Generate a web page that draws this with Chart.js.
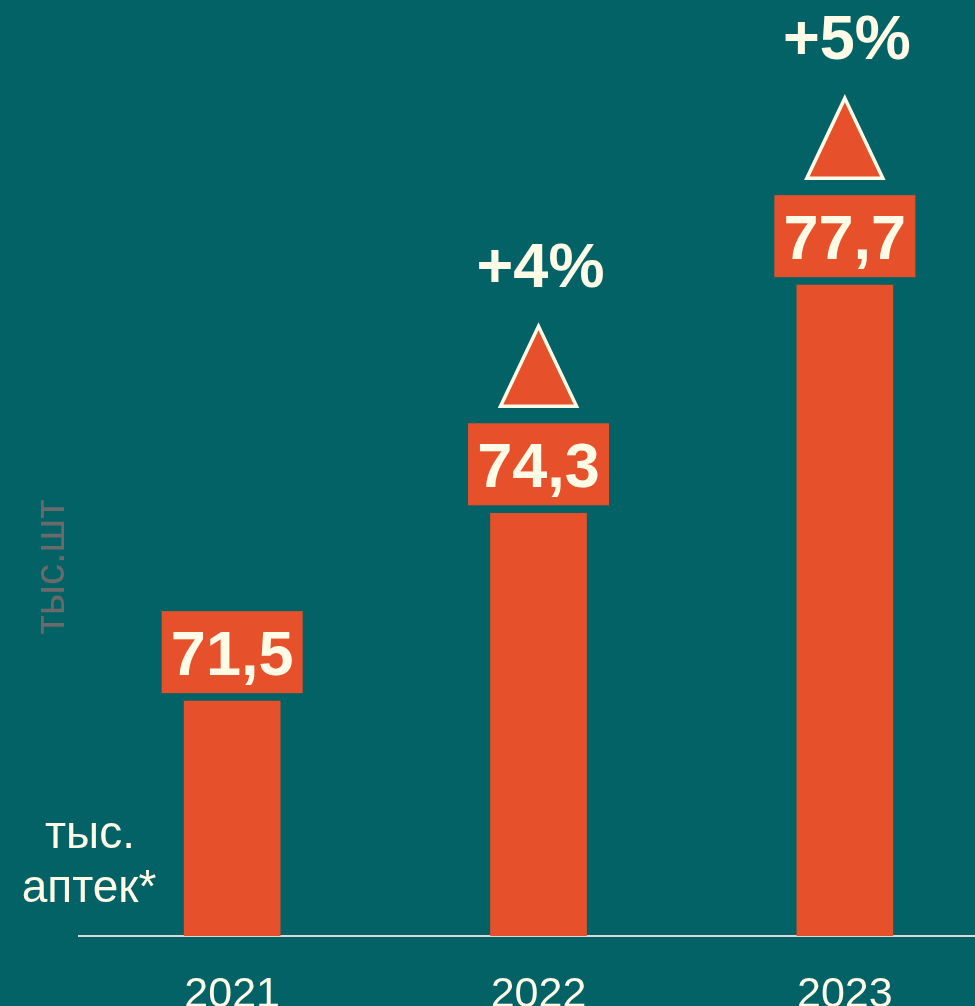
<!DOCTYPE html>
<html>
<head>
<meta charset="utf-8">
<script src="https://cdn.jsdelivr.net/npm/chart.js@4"></script>
<style>
  html, body { margin: 0; padding: 0; background: #036266; overflow: hidden; }
  #wrap { width: 1000px; height: 1006px; }
</style>
</head>
<body>
<div id="wrap"><canvas id="chart" width="1000" height="1006"></canvas></div>
<script>
// data
const years = ["2021", "2022", "2023"];
const pharmacies = [71.5, 74.3, 77.7];     // тыс. аптек
const growth = [null, "+4%", "+5%"];
const unitLabel = "тыс.шт";
const sideLabel = ["тыс.", "аптек*"];

const BAR = "#E6512B";
const CREAM = "#FFFBE6";
const FONT = "'Liberation Sans', Arial, sans-serif";

const fmt = (v) => v.toFixed(1).replace(".", ",");

const labelsPlugin = {
  id: "labels",
  afterDatasetsDraw(chart) {
    const ctx = chart.ctx;
    const meta = chart.getDatasetMeta(0);
    ctx.save();

    meta.data.forEach((bar, i) => {
      const cx = bar.x;
      const top = bar.y;

      // value box
      const boxW = 141, boxH = 82;
      const boxBottom = top - 8;
      const boxTop = boxBottom - boxH;
      ctx.fillStyle = BAR;
      ctx.fillRect(cx - boxW / 2, boxTop, boxW, boxH);
      ctx.fillStyle = CREAM;
      ctx.font = "bold 63px " + FONT;
      ctx.textAlign = "center";
      ctx.textBaseline = "alphabetic";
      ctx.fillText(fmt(pharmacies[i]), cx, boxTop + 64);

      // growth triangle and percent
      if (growth[i]) {
        const base = top - 107;
        const apex = base - 80;
        ctx.beginPath();
        ctx.moveTo(cx, apex);
        ctx.lineTo(cx + 38, base);
        ctx.lineTo(cx - 38, base);
        ctx.closePath();
        ctx.fillStyle = BAR;
        ctx.fill();
        ctx.lineWidth = 3.5;
        ctx.strokeStyle = CREAM;
        ctx.stroke();

        ctx.fillStyle = CREAM;
        ctx.font = "bold 63px " + FONT;
        ctx.fillText(growth[i], cx + 2, top - 226);
      }
    });

    // side captions
    ctx.fillStyle = CREAM;
    ctx.font = "46px " + FONT;
    ctx.textAlign = "center";
    ctx.fillText(sideLabel[0], 90, 848);
    ctx.fillText(sideLabel[1], 89, 902);

    ctx.translate(64, 567);
    ctx.rotate(-Math.PI / 2);
    ctx.fillStyle = "#6a6a6a";
    ctx.font = "42px " + FONT;
    ctx.fillText(unitLabel, 0, 0);

    ctx.restore();
  }
};

new Chart(document.getElementById("chart"), {
  type: "bar",
  data: {
    labels: years,
    datasets: [{
      data: pharmacies,
      backgroundColor: BAR,
      barThickness: 96,
      borderWidth: 0
    }]
  },
  options: {
    responsive: false,
    animation: false,
    layout: { padding: { left: 79, right: 2, top: 0, bottom: 0 } },
    plugins: {
      legend: { display: false },
      tooltip: { enabled: false }
    },
    scales: {
      x: {
        grid: { display: false },
        border: { display: true, color: "#d9d9d9", width: 2 },
        ticks: {
          color: CREAM,
          font: { family: FONT, size: 43 },
          padding: 25,
          maxRotation: 0
        },
        afterFit(axis) { axis.height = 70; }
      },
      y: {
        display: false,
        min: 68,
        max: 81.95
      }
    }
  },
  plugins: [labelsPlugin]
});
</script>
</body>
</html>
